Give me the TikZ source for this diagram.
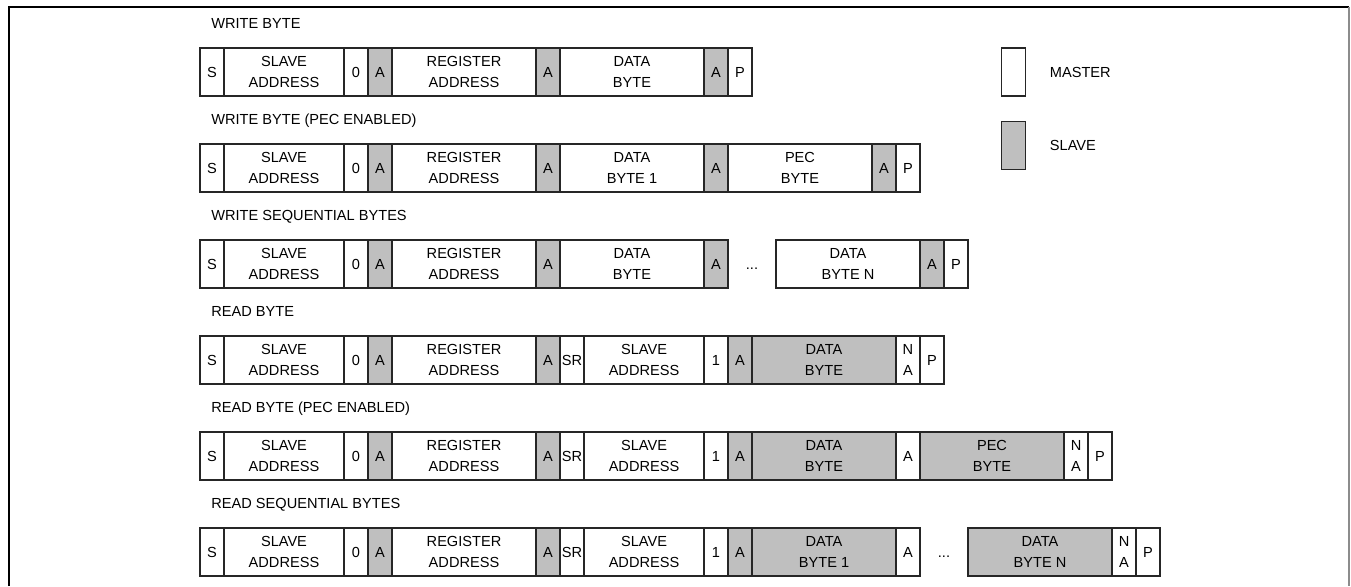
\documentclass[tikz,border=0pt]{standalone}
\usepackage{fontspec}
\setmainfont{Liberation Sans}
\newcommand{\cellw}{0.48cm}

\begin{document}
\begin{tikzpicture}[
			x=0.48cm, y=-0.48cm,
			field/.style={draw=black!85, line width=0.75pt, minimum height=2*\cellw,
				inner sep=0pt, outer sep=0pt, anchor=north west, align=center,
				font=\fontsize{8.3}{12.2}\selectfont},
			master/.style={fill=white},
			slave/.style={fill=black!25},
			title/.style={anchor=base west, inner sep=0pt, font=\fontsize{8.3}{10}\selectfont},
			gap/.style={inner sep=0pt, text height=6pt, text depth=0pt, font=\fontsize{8.3}{10}\selectfont}
			]
			\useasboundingbox (-8.333,0) rectangle (47.958,24.417);
			
			% Outer frame (bottom edge cut off)
			\draw[line width=1.2pt, black] (-7.96,24.417) -- (-7.96,0.29) -- (47.875,0.29);
			\draw[line width=0.8pt, black!45] (47.875,0.29) -- (47.875,24.417);
			
			% Frame titles
			\foreach \r/\top/\ttl in {wb/2/{WRITE BYTE}, wbp/6/{WRITE BYTE (PEC ENABLED)},
				ws/10/{WRITE SEQUENTIAL BYTES}, rb/14/{READ BYTE},
				rbp/18/{READ BYTE (PEC ENABLED)}, rs/22/{READ SEQUENTIAL BYTES}}
			\node[title] (\r-title) at (0.46,\top-0.8) {\ttl};
			
			% Start of every frame: S, slave address, write bit, register address
			\foreach \r/\top in {wb/2, wbp/6, ws/10, rb/14, rbp/18, rs/22}
			\foreach \cl/\wid/\txt/\who [count=\i] in {0/1/S/master, 1/5/{SLAVE\\ADDRESS}/master,
				6/1/0/master, 7/1/A/slave, 8/6/{REGISTER\\ADDRESS}/master, 14/1/A/slave}
			{
				\node[field, \who, minimum width=\wid*\cellw] (\r-\i) at (\cl,\top) {\txt};
			}
			
			% Write byte
			\foreach \cl/\wid/\txt/\who [count=\i from 7] in {15/6/{DATA\\BYTE}/master,
				21/1/A/slave, 22/1/P/master}
			\node[field, \who, minimum width=\wid*\cellw] (wb-\i) at (\cl,2) {\txt};
			
			% Write byte, PEC enabled
			\foreach \cl/\wid/\txt/\who [count=\i from 7] in {15/6/{DATA\\BYTE 1}/master,
				21/1/A/slave, 22/6/{PEC\\BYTE}/master, 28/1/A/slave, 29/1/P/master}
			\node[field, \who, minimum width=\wid*\cellw] (wbp-\i) at (\cl,6) {\txt};
			
			% Write sequential bytes
			\foreach \cl/\wid/\txt/\who [count=\i from 7] in {15/6/{DATA\\BYTE}/master,
				21/1/A/slave, 24/6/{DATA\\BYTE N}/master, 30/1/A/slave, 31/1/P/master}
			\node[field, \who, minimum width=\wid*\cellw] (ws-\i) at (\cl,10) {\txt};
			\node[gap] (ws-dots) at (23,11) {...};
			
			% Repeated start and slave address with read bit
			\foreach \r/\top in {rb/14, rbp/18, rs/22}
			\foreach \cl/\wid/\txt/\who [count=\i from 7] in {15/1/SR/master,
				16/5/{SLAVE\\ADDRESS}/master, 21/1/1/master, 22/1/A/slave}
			{
				\node[field, \who, minimum width=\wid*\cellw] (\r-\i) at (\cl,\top) {\txt};
			}
			
			% Read byte
			\foreach \cl/\wid/\txt/\who [count=\i from 11] in {23/6/{DATA\\BYTE}/slave,
				29/1/{N\\A}/master, 30/1/P/master}
			\node[field, \who, minimum width=\wid*\cellw] (rb-\i) at (\cl,14) {\txt};
			
			% Read byte, PEC enabled
			\foreach \cl/\wid/\txt/\who [count=\i from 11] in {23/6/{DATA\\BYTE}/slave,
				29/1/A/master, 30/6/{PEC\\BYTE}/slave, 36/1/{N\\A}/master, 37/1/P/master}
			\node[field, \who, minimum width=\wid*\cellw] (rbp-\i) at (\cl,18) {\txt};
			
			% Read sequential bytes
			\foreach \cl/\wid/\txt/\who [count=\i from 11] in {23/6/{DATA\\BYTE 1}/slave,
				29/1/A/master, 32/6/{DATA\\BYTE N}/slave, 38/1/{N\\A}/master, 39/1/P/master}
			\node[field, \who, minimum width=\wid*\cellw] (rs-\i) at (\cl,22) {\txt};
			\node[gap] (rs-dots) at (31,23) {...};
			
			% Key
			\node[field, master, minimum width=\cellw] (key-master) at (33.4,2) {};
			\node[field, slave, minimum width=\cellw] (key-slave) at (33.4,5.05) {};
			\node[anchor=west, inner sep=0pt, font=\fontsize{8.3}{10}\selectfont] (key-master-txt) at (35.4,3.04) {MASTER};
			\node[anchor=west, inner sep=0pt, font=\fontsize{8.3}{10}\selectfont] (key-slave-txt) at (35.4,6.08) {SLAVE};
		\end{tikzpicture}
\end{document}
